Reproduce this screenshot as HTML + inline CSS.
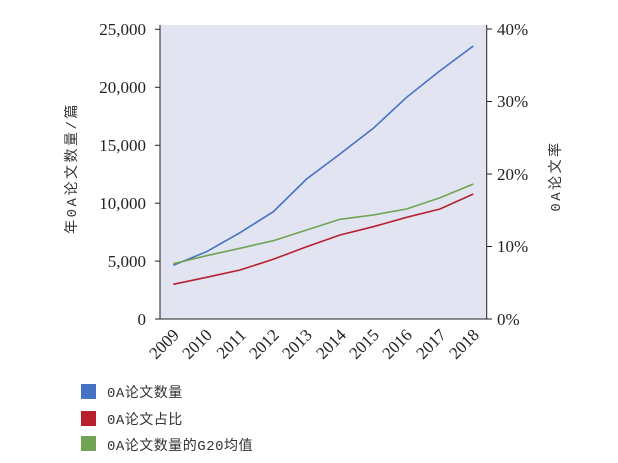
<!DOCTYPE html>
<html><head><meta charset="utf-8"><style>
html,body{margin:0;padding:0;background:#fff;}
svg{display:block;}
.t{font-family:"Liberation Serif",serif;font-size:17px;fill:#222;}
.c{font-family:"Liberation Mono","Noto Sans CJK SC",monospace;font-size:14px;fill:#333;letter-spacing:0.5px;}
.a{font-family:"Liberation Mono","Noto Sans CJK SC",monospace;font-size:14px;fill:#333;letter-spacing:2.5px;}
</style></head><body>
<svg width="618" height="463" viewBox="0 0 618 463" xmlns="http://www.w3.org/2000/svg">
<rect x="160" y="25" width="326.7" height="294" fill="#e2e4f1"/>
<line x1="160" y1="25" x2="160" y2="319" stroke="#222" stroke-width="1"/>
<line x1="486.7" y1="25" x2="486.7" y2="319" stroke="#222" stroke-width="1"/>
<line x1="155" y1="319" x2="492" y2="319" stroke="#222" stroke-width="1"/>
<g stroke="#222">
<line x1="155" y1="29.3" x2="160" y2="29.3"/><line x1="155" y1="87.3" x2="160" y2="87.3"/>
<line x1="155" y1="145.3" x2="160" y2="145.3"/><line x1="155" y1="203.2" x2="160" y2="203.2"/>
<line x1="155" y1="261.1" x2="160" y2="261.1"/>
<line x1="486.7" y1="29" x2="492" y2="29"/><line x1="486.7" y1="101.5" x2="492" y2="101.5"/>
<line x1="486.7" y1="174" x2="492" y2="174"/><line x1="486.7" y1="246.5" x2="492" y2="246.5"/>
</g>
<g class="t" text-anchor="end">
<text x="146" y="35">25,000</text><text x="146" y="93">20,000</text><text x="146" y="151">15,000</text>
<text x="146" y="209">10,000</text><text x="146" y="267">5,000</text><text x="146" y="325">0</text>
</g>
<g class="t">
<text x="497" y="35">40%</text><text x="497" y="107">30%</text><text x="497" y="180">20%</text>
<text x="497" y="252">10%</text><text x="497" y="325">0%</text>
</g>
<g class="t" text-anchor="end">
<text transform="translate(180,336) rotate(-45)">2009</text>
<text transform="translate(213,336) rotate(-45)">2010</text>
<text transform="translate(247,336) rotate(-45)">2011</text>
<text transform="translate(280,336) rotate(-45)">2012</text>
<text transform="translate(313,336) rotate(-45)">2013</text>
<text transform="translate(347,336) rotate(-45)">2014</text>
<text transform="translate(380,336) rotate(-45)">2015</text>
<text transform="translate(413,336) rotate(-45)">2016</text>
<text transform="translate(447,336) rotate(-45)">2017</text>
<text transform="translate(480,336) rotate(-45)">2018</text>
</g>
<polyline fill="none" stroke="#4472c4" stroke-width="1.6" points="173.3,265.3 206.6,251.7 240,232.7 273.3,211.7 306.6,179 340,154 373.3,128.3 406.6,97.3 440,70.7 473.3,46"/>
<polyline fill="none" stroke="#70a454" stroke-width="1.6" points="173.3,263.7 206.6,255.7 240,248.3 273.3,240.7 306.6,230 340,219.3 373.3,215 406.6,209 440,197.7 473.3,184"/>
<polyline fill="none" stroke="#b8202e" stroke-width="1.6" points="173.3,284.3 206.6,277.3 240,270 273.3,259.3 306.6,246.7 340,235 373.3,226.7 406.6,217.3 440,209 473.3,194"/>
<text class="a" text-anchor="middle" transform="translate(76,168) rotate(-90)">年0A论文数量/篇</text>
<text class="a" text-anchor="middle" transform="translate(560,176) rotate(-90)">0A论文率</text>
<rect x="81" y="384" width="15" height="15" fill="#4472c4"/>
<rect x="81" y="411" width="15" height="15" fill="#b8202e"/>
<rect x="81" y="436" width="15" height="15" fill="#70a454"/>
<text class="c" x="107" y="397">0A论文数量</text>
<text class="c" x="107" y="424">0A论文占比</text>
<text class="c" x="107" y="450">0A论文数量的G20均值</text>
</svg>
</body></html>
